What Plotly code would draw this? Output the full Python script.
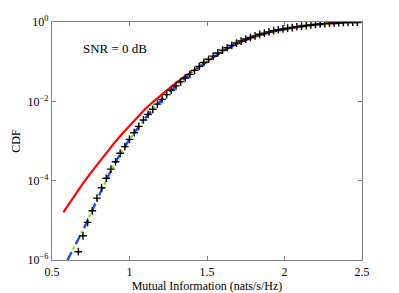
import plotly.graph_objects as go

# ---- data ----
x_red = [0.573, 0.60, 0.65, 0.70, 0.75, 0.80, 0.85, 0.90, 0.95, 1.00, 1.05, 1.10,
         1.15, 1.20, 1.25, 1.30, 1.35, 1.40, 1.45, 1.50, 1.55, 1.60, 1.65, 1.70,
         1.75, 1.80, 1.85, 1.90, 1.95, 2.00, 2.10, 2.20, 2.30, 2.40, 2.50]
cdf_red = [1.58e-5, 2.29e-5, 4.47e-5, 8.5e-5, 1.58e-4, 2.85e-4, 5.0e-4, 8.7e-4,
           1.48e-3, 2.45e-3, 4.0e-3, 6.3e-3, 9.6e-3, 0.0141, 0.0206, 0.0290,
           0.0407, 0.0550, 0.0741, 0.102, 0.138, 0.182, 0.234, 0.295, 0.355,
           0.417, 0.479, 0.543, 0.603, 0.661, 0.767, 0.861, 0.929, 0.973, 0.993]

x_exact = [0.60, 0.65, 0.70, 0.75, 0.80, 0.85, 0.90, 0.95, 1.00, 1.05, 1.10, 1.15,
           1.20, 1.25, 1.30, 1.35, 1.40, 1.45, 1.50, 1.55, 1.60, 1.65, 1.70, 1.75,
           1.80, 1.85, 1.90, 1.95, 2.00, 2.10, 2.20, 2.30, 2.40, 2.50]
cdf_exact = [1.0e-6, 2.29e-6, 5.62e-6, 1.48e-5, 3.98e-5, 1.05e-4, 2.51e-4, 5.5e-4,
             1.10e-3, 2.09e-3, 3.72e-3, 6.3e-3, 0.0102, 0.0162, 0.0245, 0.0363,
             0.0525, 0.0741, 0.102, 0.138, 0.182, 0.234, 0.295, 0.355, 0.417,
             0.479, 0.543, 0.603, 0.661, 0.767, 0.861, 0.929, 0.973, 0.993]

x_sim = [0.67, 0.70, 0.73, 0.76, 0.79, 0.82, 0.85, 0.88, 0.91, 0.94, 0.97, 1.00,
         1.03, 1.06, 1.09, 1.12, 1.15, 1.18, 1.21, 1.24, 1.27, 1.30, 1.33, 1.36,
         1.39, 1.42, 1.45, 1.48, 1.51, 1.54, 1.57, 1.60, 1.63, 1.66, 1.69, 1.72,
         1.75, 1.78, 1.81, 1.84, 1.87, 1.90, 1.93, 1.96, 1.99, 2.02, 2.05, 2.08,
         2.11, 2.14, 2.17, 2.20, 2.23, 2.26, 2.29, 2.32, 2.35, 2.38, 2.41, 2.44, 2.47]
cdf_sim = [1.62e-6, 4.07e-6, 8.9e-6, 1.74e-5, 3.63e-5, 6.6e-5, 1.15e-4, 1.95e-4,
           3.0e-4, 4.9e-4, 7.2e-4, 1.10e-3, 1.62e-3, 2.34e-3, 3.39e-3, 4.68e-3,
           6.3e-3, 8.5e-3, 0.0112, 0.0148, 0.0191, 0.0245, 0.0309, 0.0389, 0.0479,
           0.0603, 0.0759, 0.0955, 0.115, 0.138, 0.166, 0.195, 0.224, 0.257, 0.295,
           0.331, 0.372, 0.407, 0.447, 0.490, 0.525, 0.562, 0.603, 0.638, 0.668,
           0.700, 0.724, 0.759, 0.785, 0.813, 0.841, 0.871, 0.891, 0.912, 0.929,
           0.944, 0.959, 0.970, 0.979, 0.986, 0.991]

x_ticks = [0.5, 1, 1.5, 2, 2.5]
x_ticktext = ["0.5", "1", "1.5", "2", "2.5"]
y_ticks = [1e-6, 1e-4, 1e-2, 1]
y_ticktext = ["10<sup>\u22126</sup>", "10<sup>\u22124</sup>", "10<sup>\u22122</sup>", "10<sup>0</sup>"]

FONT = "Liberation Serif, Times New Roman, serif"

fig = go.Figure()
fig.add_trace(go.Scatter(x=x_red, y=cdf_red, mode="lines",
                         line=dict(color="#ff0000", width=2.2), showlegend=False))
fig.add_trace(go.Scatter(x=x_exact, y=cdf_exact, mode="lines",
                         line=dict(color="#66ee11", width=2.2, dash="dashdot"), showlegend=False))
fig.add_trace(go.Scatter(x=x_exact, y=cdf_exact, mode="lines",
                         line=dict(color="#2244ff", width=2.2, dash="dash"), showlegend=False))
fig.add_trace(go.Scatter(x=x_sim, y=cdf_sim, mode="markers",
                         marker=dict(symbol="cross-thin", size=5.5, color="black",
                                     line=dict(color="black", width=1.4)),
                         showlegend=False))

axis_common = dict(showline=True, linecolor="#808080", linewidth=1.3, mirror="ticks",
                   ticks="inside", ticklen=4, tickcolor="#808080", tickwidth=1,
                   showgrid=False, zeroline=False, automargin=False,
                   tickfont=dict(family=FONT, size=12, color="black"))

fig.update_xaxes(range=[0.5, 2.5], tickvals=x_ticks, ticktext=x_ticktext,
                 title=dict(text="Mutual Information (nats/s/Hz)",
                            font=dict(family=FONT, size=12, color="black"), standoff=2),
                 **axis_common)
fig.update_yaxes(type="log", range=[-6, 0], tickvals=y_ticks, ticktext=y_ticktext,
                 title=dict(text="CDF", font=dict(family=FONT, size=12, color="black"), standoff=4),
                 **axis_common)

fig.add_annotation(x=0.685, y=-0.66, xref="x", yref="y", text="SNR = 0 dB",
                   showarrow=False, xanchor="left", yanchor="middle",
                   font=dict(family=FONT, size=13, color="black"))

fig.update_layout(width=399, height=293, plot_bgcolor="white", paper_bgcolor="white",
                  margin=dict(l=52, r=37, t=22, b=33))

fig.write_html("out.html", config={"displayModeBar": False},
               post_script="document.body.style.margin='0';document.body.style.overflow='hidden';")
